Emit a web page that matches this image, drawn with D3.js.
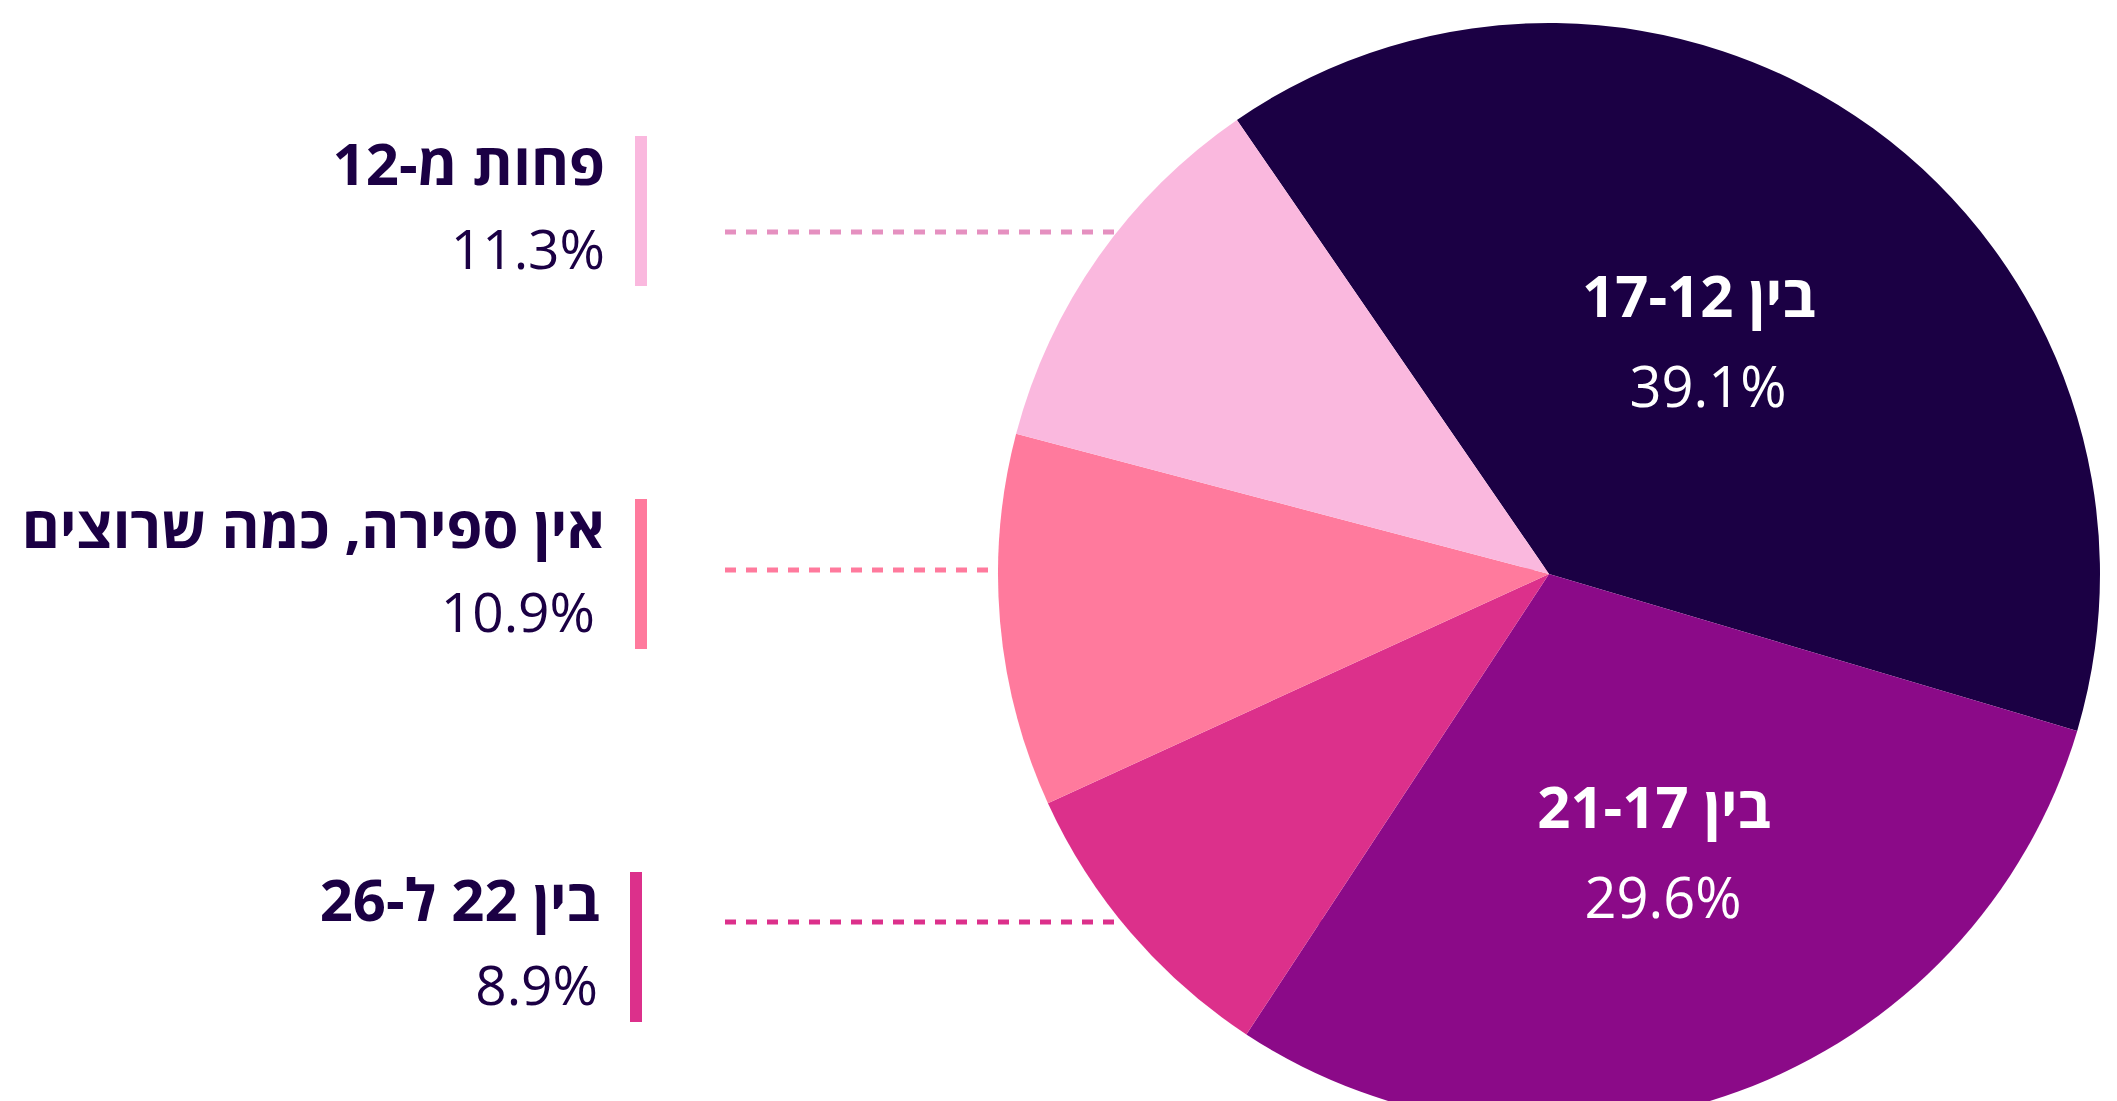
<!DOCTYPE html>
<html>
<head>
<meta charset="utf-8">
<script src="https://cdn.jsdelivr.net/npm/d3@7"></script>
<style>
body { margin: 0; background: #fff; }
svg { display: block; }
</style>
</head>
<body>
<svg width="2117" height="1101"></svg>
<script>
// data, in pie order (clockwise from the top-left edge of the dark slice)
var labels = ["בין 17-12", "בין 21-17", "בין 22 ל-26", "אין ספירה, כמה שרוצים", "פחות מ-12"];
var values = [39.1, 29.6, 8.9, 10.9, 11.3];
var pctLabels = ["39.1%", "29.6%", "8.9%", "10.9%", "11.3%"];
var colors = ["#1b0044", "#8b0a88", "#dc308b", "#ff7a9d", "#fab8de"];
var lineColors = ["#1b0044", "#8b0a88", "#dc308b", "#ff7a9d", "#e590c0"];

var svg = d3.select("svg"),
  width = +svg.attr("width"),
  height = +svg.attr("height");

var font = "'Open Sans', 'DejaVu Sans', sans-serif";
var ink = "#1b0044";

var cx = 1549, cy = 574, r = 551;
var startA = -34.5 * Math.PI / 180;

var pie = d3.pie().sort(null)
  .startAngle(startA)
  .endAngle(startA + 2 * Math.PI);
var arcs = pie(values);
var arc = d3.arc().innerRadius(0).outerRadius(r);

// legend on the left, for the three small slices (top to bottom)
var legend = [
  { i: 4, top: 136, lineY: 232, barX: 635, pctDx: 0 },
  { i: 3, top: 499, lineY: 570, barX: 635, pctDx: -10 },
  { i: 2, top: 872, lineY: 922, barX: 630, pctDx: -2 }
];

// dotted leader lines go under the pie
svg.append("g").selectAll("line")
  .data(legend)
  .enter().append("line")
  .attr("x1", 725)
  .attr("x2", cx)
  .attr("y1", function (d) { return d.lineY })
  .attr("y2", function (d) { return d.lineY })
  .attr("stroke", function (d) { return lineColors[d.i] })
  .attr("stroke-width", 5)
  .attr("stroke-dasharray", "11 10");

var pieG = svg.append("g").attr("transform", "translate(" + cx + "," + cy + ")");
pieG.selectAll("path")
  .data(arcs)
  .enter().append("path")
  .attr("d", arc)
  .attr("fill", function (d, i) { return colors[i] });

// labels inside the two big slices
var inside = [{ i: 0, k: 0.475 }, { i: 1, k: 0.577 }];
inside.forEach(function (o) {
  var a = arcs[o.i];
  var mid = (a.startAngle + a.endAngle) / 2;
  var x = Math.sin(mid) * r * o.k,
    y = -Math.cos(mid) * r * o.k;
  pieG.append("text")
    .attr("x", x - 4).attr("y", y - 45)
    .attr("direction", "rtl")
    .attr("text-anchor", "middle")
    .style("font-family", font)
    .style("font-weight", 700)
    .style("font-size", "58px")
    .attr("fill", "#fff")
    .text(labels[o.i]);
  pieG.append("text")
    .attr("x", x + 5).attr("y", y + 45)
    .attr("text-anchor", "middle")
    .style("font-family", font)
    .style("font-weight", 400)
    .style("font-size", "56px")
    .attr("fill", "#fff")
    .text(pctLabels[o.i]);
});

var lg = svg.append("g").selectAll("g")
  .data(legend)
  .enter().append("g");

lg.append("rect")
  .attr("x", function (d) { return d.barX })
  .attr("y", function (d) { return d.top })
  .attr("width", 12)
  .attr("height", 150)
  .attr("fill", function (d) { return colors[d.i] });

lg.append("text")
  .attr("x", function (d) { return d.barX - 30 })
  .attr("y", function (d) { return d.top + 49 })
  .attr("direction", "rtl")
  .attr("text-anchor", "start")
  .style("font-family", font)
  .style("font-weight", 700)
  .style("font-size", "58px")
  .attr("fill", ink)
  .text(function (d) { return labels[d.i] });

lg.append("text")
  .attr("x", function (d) { return d.barX - 30 + d.pctDx })
  .attr("y", function (d) { return d.top + 133 })
  .attr("text-anchor", "end")
  .style("font-family", font)
  .style("font-weight", 400)
  .style("font-size", "55px")
  .attr("fill", ink)
  .text(function (d) { return pctLabels[d.i] });
</script>
</body>
</html>
